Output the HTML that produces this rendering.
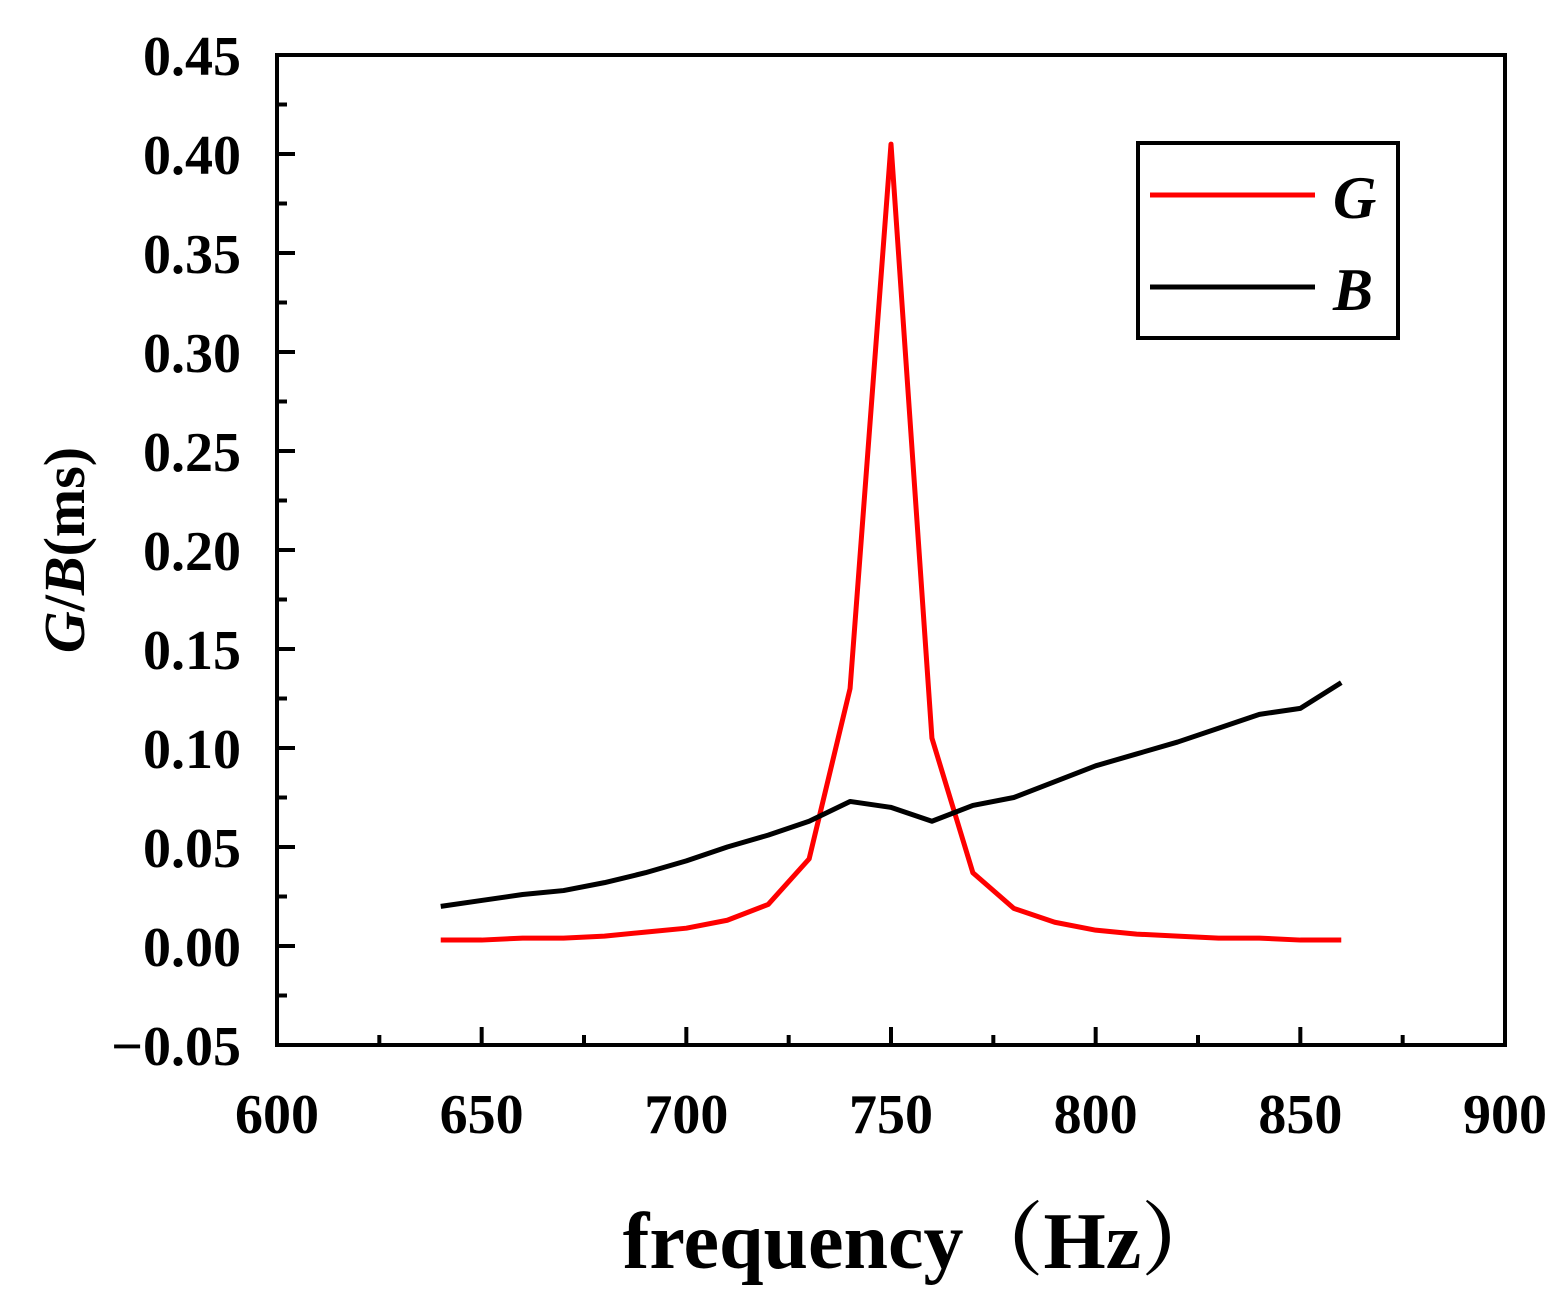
<!DOCTYPE html>
<html><head><meta charset="utf-8"><style>body{margin:0;background:#fff}svg{display:block}</style></head>
<body>
<svg id="chart" width="1567" height="1310" xmlns="http://www.w3.org/2000/svg" font-family="'Liberation Serif', 'Noto Serif CJK SC', serif">
<g id="axes"></g>
<g id="series"></g>
<g>
<rect x="1138" y="143" width="260" height="195" fill="none" stroke="#000" stroke-width="4"/>
<line x1="1150" y1="195" x2="1315" y2="195" stroke="#ff0000" stroke-width="5"/>
<text x="1333" y="218" font-size="60" font-weight="bold" font-style="italic">G</text>
<line x1="1150" y1="287" x2="1315" y2="287" stroke="#000" stroke-width="5"/>
<text x="1333" y="310" font-size="60" font-weight="bold" font-style="italic">B</text>
</g>
<text transform="translate(84,550) rotate(-90)" text-anchor="middle" font-size="58" font-weight="bold"><tspan font-style="italic">G</tspan>/<tspan font-style="italic">B</tspan>(ms)</text>
<text x="922" y="1268" text-anchor="middle" font-size="80" font-weight="bold">frequency（Hz）</text>
</svg>
<script>
const freqs=[640,650,660,670,680,690,700,710,720,730,740,750,760,770,780,790,800,810,820,830,840,850,860];
const gValues=[0.003,0.003,0.004,0.004,0.005,0.007,0.009,0.013,0.021,0.044,0.13,0.405,0.105,0.037,0.019,0.012,0.008,0.006,0.005,0.004,0.004,0.003,0.003];
const bValues=[0.020,0.023,0.026,0.028,0.032,0.037,0.043,0.050,0.056,0.063,0.073,0.070,0.063,0.071,0.075,0.083,0.091,0.097,0.103,0.110,0.117,0.120,0.133];
const xTicks=[600,650,700,750,800,850,900];
const yTicks=[-0.05,0,0.05,0.10,0.15,0.20,0.25,0.30,0.35,0.40,0.45];
const yTickLabels=["\u22120.05","0.00","0.05","0.10","0.15","0.20","0.25","0.30","0.35","0.40","0.45"];
const L=277,R=1505,T=55,B=1045;
const sx=v=>L+(v-600)/300*(R-L);
const sy=v=>B-(v+0.05)/0.5*(B-T);
const NS="http://www.w3.org/2000/svg";
function mk(tag,attrs,parent){const e=document.createElementNS(NS,tag);for(const k in attrs)e.setAttribute(k,attrs[k]);parent.appendChild(e);return e;}
const ax=document.getElementById('axes');
const frame=mk('rect',{x:L,y:T,width:R-L,height:B-T,fill:'none',stroke:'#000','stroke-width':4},ax);


xTicks.forEach(v=>{
 const t=mk('line',{x1:sx(v),x2:sx(v),y1:B,y2:B-18,stroke:'#000','stroke-width':4},ax);
 
 
 if(v<900){const m=mk('line',{x1:sx(v+25),x2:sx(v+25),y1:B,y2:B-10,stroke:'#000','stroke-width':4},ax);
 
 }
 const lb=mk('text',{x:sx(v),y:1133,'text-anchor':'middle','font-size':56,'font-weight':'bold'},ax);
 lb.textContent=v;
 
 
});
yTicks.forEach((v,i)=>{
 const t=mk('line',{x1:L,x2:L+18,y1:sy(v),y2:sy(v),stroke:'#000','stroke-width':4},ax);
 
 
 if(i<yTicks.length-1){const m=mk('line',{x1:L,x2:L+10,y1:sy(v+0.025),y2:sy(v+0.025),stroke:'#000','stroke-width':4},ax);
 
 }
 const lb=mk('text',{x:241,y:sy(v)+20,'text-anchor':'end','font-size':56,'font-weight':'bold'},ax);
 lb.textContent=yTickLabels[i];
 
 
});
const sr=document.getElementById('series');
const pg=mk('polyline',{points:freqs.map((f,i)=>sx(f)+','+sy(gValues[i])).join(' '),fill:'none',stroke:'#ff0000','stroke-width':5,'stroke-linejoin':'round'},sr);


const pb=mk('polyline',{points:freqs.map((f,i)=>sx(f)+','+sy(bValues[i])).join(' '),fill:'none',stroke:'#000','stroke-width':5,'stroke-linejoin':'round'},sr);


</script>
</body></html>
